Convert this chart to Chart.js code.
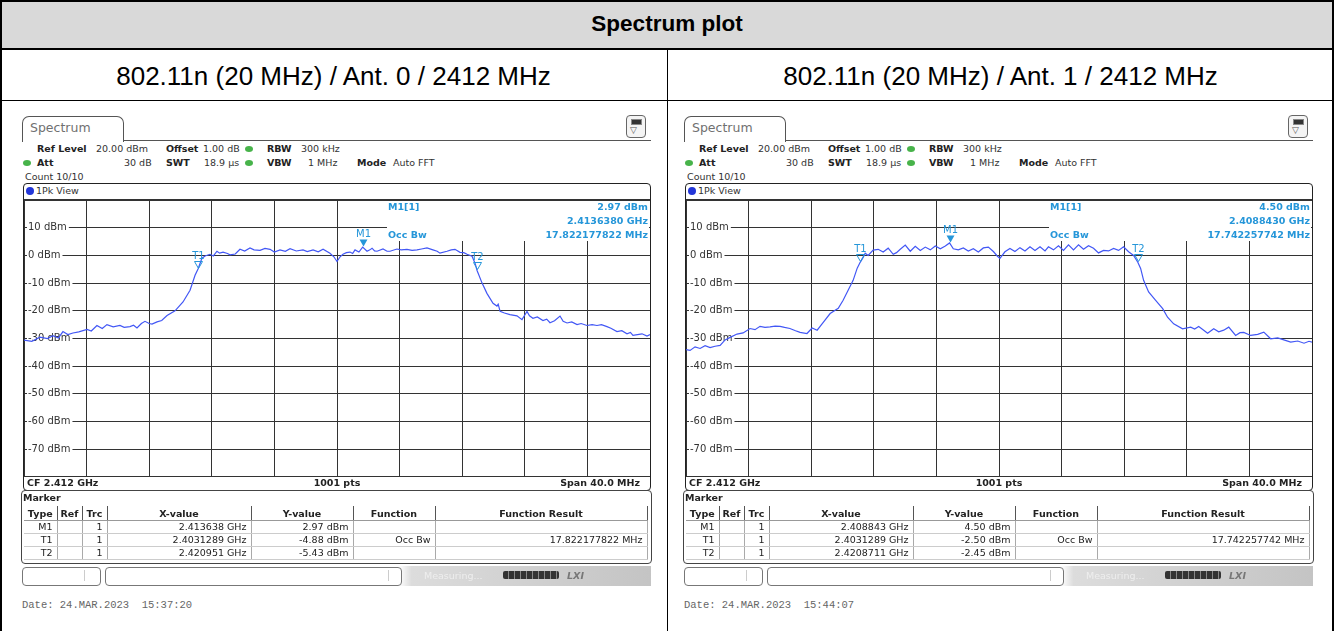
<!DOCTYPE html>
<html><head><meta charset="utf-8">
<script src="https://cdn.jsdelivr.net/npm/chart.js@4.4.1/dist/chart.umd.min.js"></script>
<style>
body{margin:0;background:#fff}
#page{position:relative;width:1334px;height:631px;overflow:hidden;background:#fff;font-family:"Liberation Sans",Arial,sans-serif}
.a{position:absolute}
.blk{position:absolute;background:#000}
.t{position:absolute;font-family:"DejaVu Sans";font-size:9.5px;line-height:12px;color:#333;white-space:nowrap}
.b{font-weight:bold;color:#222}
.dot{position:absolute;width:8px;height:6px;border-radius:50%;background:#47b34a}
.mk{position:absolute;left:24px;top:506px;border-collapse:collapse;table-layout:fixed;width:623px;font-family:"DejaVu Sans";font-size:9.5px;color:#222}
.mk th{height:14px;padding:0 3px;border-right:1px solid #555;border-bottom:1px solid #999;font-weight:bold;text-align:center;white-space:nowrap}
.mk td{height:12px;padding:0 4px;border-right:1px solid #aaa;border-bottom:1px solid #ccc;text-align:right;white-space:nowrap;line-height:12px}
.mi{position:absolute;background:#fff;font-family:"DejaVu Sans";font-size:9.5px;font-weight:bold;color:#2596d9;line-height:14px}
</style></head>
<body><div id="page">
  <div class="a" style="left:0;top:0;width:1334px;height:50px;background:#d9d9d9"></div>
  <div class="blk" style="left:0;top:0;width:1334px;height:2px"></div>
  <div class="blk" style="left:0;top:0;width:2px;height:631px"></div>
  <div class="blk" style="left:1332px;top:0;width:2px;height:631px"></div>
  <div class="blk" style="left:0;top:48px;width:1334px;height:2px"></div>
  <div class="blk" style="left:0;top:100px;width:1334px;height:1px"></div>
  <div class="blk" style="left:667px;top:50px;width:1px;height:581px"></div>
  <div class="a" style="left:0;top:10px;width:1334px;text-align:center;font-weight:bold;font-size:22.5px;line-height:28px">Spectrum plot</div>
  <div class="a" style="left:0;top:60px;width:667px;text-align:center;font-size:26px;line-height:32px">802.11n (20 MHz) / Ant. 0 / 2412 MHz</div>
  <div class="a" style="left:667px;top:60px;width:667px;text-align:center;font-size:26px;line-height:32px">802.11n (20 MHz) / Ant. 1 / 2412 MHz</div>
  <div id="p0" class="a" style="left:0;top:0;width:667px;height:631px"></div>
  <div id="p1" class="a" style="left:662px;top:0;width:667px;height:631px"></div>
</div>
<script>
// trace readings, frequency in MHz, level in dBm
const ant0Freq = [2392.0,2392.5,2393.02,2393.5,2393.85,2394.2,2394.49,2394.8,2395.13,2395.5,2396.03,2396.3,2396.66,2397.0,2397.3,2397.7,2398.13,2398.4,2398.77,2399.0,2399.22,2399.5,2399.73,2400.0,2400.18,2400.5,2400.8,2401.14,2401.65,2402.16,2402.61,2402.93,2403.12,2403.37,2403.57,2403.88,2404.1,2404.33,2404.5,2404.72,2405.0,2405.16,2405.5,2405.8,2406.1,2406.44,2406.7,2407.08,2407.4,2407.72,2408.0,2408.36,2408.7,2409.0,2409.4,2409.83,2410.1,2410.47,2410.8,2411.11,2411.55,2411.8,2412.0,2412.2,2412.38,2412.6,2412.83,2413.0,2413.15,2413.4,2413.64,2413.92,2414.1,2414.24,2414.4,2414.56,2414.94,2415.2,2415.39,2415.83,2416.1,2416.47,2416.8,2417.11,2417.4,2417.75,2418.13,2418.4,2418.58,2419.03,2419.3,2419.54,2419.86,2420.1,2420.31,2420.63,2420.82,2420.95,2421.27,2421.58,2421.97,2422.22,2422.3,2422.42,2422.7,2423.05,2423.5,2423.82,2424.0,2424.14,2424.3,2424.52,2424.8,2425.16,2425.4,2425.61,2425.9,2426.25,2426.45,2426.7,2427.0,2427.34,2427.6,2427.97,2428.3,2428.61,2428.9,2429.25,2429.5,2429.89,2430.2,2430.53,2430.75,2430.91,2431.2,2431.49,2431.81,2432.0];
const ant0Level = [-30.6,-31.0,-29.5,-30.0,-29.0,-29.8,-27.5,-28.6,-28.0,-27.6,-26.7,-27.3,-25.3,-26.4,-25.0,-25.8,-25.3,-26.0,-25.7,-25.2,-26.2,-24.6,-23.8,-24.6,-24.8,-24.0,-23.5,-21.7,-20.0,-16.8,-12.6,-7.2,-4.88,-1.0,-0.2,0.4,-0.2,1.5,0.8,1.2,0.7,0.2,0.5,2.2,1.6,2.7,2.0,1.8,2.5,2.2,1.2,2.0,1.5,2.4,1.6,2.0,1.4,2.0,1.3,2.2,0.8,-0.5,-2.2,-0.5,0.4,1.0,1.2,0.7,2.0,1.2,2.97,1.5,2.0,2.6,1.6,1.5,2.3,1.5,1.5,2.3,2.0,2.2,1.8,2.0,2.3,2.7,2.0,1.5,0.8,1.5,2.0,2.2,1.1,1.0,0.4,-0.3,-2.8,-5.43,-10.0,-13.7,-17.3,-18.3,-17.6,-20.2,-20.8,-21.4,-21.8,-23.2,-21.5,-20.2,-21.8,-22.7,-22.2,-23.5,-23.0,-24.3,-23.6,-21.9,-23.8,-24.4,-24.0,-25.0,-24.6,-25.3,-25.0,-25.3,-25.0,-25.7,-26.3,-27.5,-27.2,-28.3,-27.8,-28.9,-28.6,-28.3,-29.1,-28.6];
const ant1Freq = [2392.0,2392.26,2392.58,2392.9,2393.22,2393.54,2393.86,2394.18,2394.5,2394.82,2395.26,2395.65,2396.09,2396.41,2396.73,2397.05,2397.37,2397.7,2398.01,2398.3,2398.64,2399.0,2399.29,2399.73,2400.06,2400.38,2400.77,2401.21,2401.73,2402.04,2402.36,2402.68,2402.94,2403.13,2403.32,2403.45,2403.64,2403.96,2404.28,2404.6,2404.92,2405.24,2405.45,2405.69,2406.01,2406.33,2406.65,2406.97,2407.29,2407.61,2407.93,2408.25,2408.57,2408.84,2409.08,2409.4,2409.72,2410.04,2410.36,2410.68,2411.0,2411.32,2411.64,2411.9,2412.06,2412.38,2412.7,2413.02,2413.34,2413.66,2413.98,2414.3,2414.62,2414.94,2415.16,2415.48,2415.8,2416.12,2416.44,2416.76,2417.08,2417.4,2417.72,2418.04,2418.36,2418.68,2419.0,2419.32,2419.64,2419.96,2420.28,2420.6,2420.87,2421.05,2421.24,2421.56,2422.01,2422.46,2422.77,2423.16,2423.73,2424.25,2424.5,2424.76,2425.08,2425.33,2425.72,2426.04,2426.36,2426.68,2427.12,2427.4,2427.64,2428.08,2428.53,2428.92,2429.36,2429.81,2430.2,2430.64,2431.09,2431.49,2431.81,2432.0];
const ant1Level = [-34.0,-34.3,-33.0,-33.6,-32.6,-33.3,-32.8,-32.5,-30.5,-29.6,-28.4,-28.0,-26.4,-26.8,-25.6,-26.0,-25.8,-25.5,-25.6,-26.0,-26.4,-27.2,-27.8,-28.2,-26.2,-27.0,-24.2,-21.0,-19.1,-16.2,-12.6,-9.0,-4.6,-2.5,-0.7,0.8,0.0,1.9,2.2,1.2,2.6,0.4,1.0,2.2,3.7,1.5,3.3,1.8,3.0,2.0,3.4,2.4,3.4,4.5,2.4,2.0,2.7,1.6,2.4,1.2,2.7,3.0,1.4,-0.3,-1.1,1.3,2.5,1.4,2.8,1.6,3.1,1.8,3.1,1.6,3.1,2.0,3.5,1.8,3.8,2.0,3.8,2.2,3.5,2.6,0.9,1.8,1.6,2.5,1.8,3.1,1.3,0.0,-2.45,-4.7,-9.0,-13.2,-16.2,-19.2,-22.3,-24.7,-26.5,-25.9,-26.6,-25.7,-27.0,-28.1,-26.5,-27.6,-27.0,-25.9,-28.9,-27.9,-27.8,-28.9,-28.5,-27.7,-30.1,-29.8,-30.5,-31.3,-30.9,-31.7,-31.0,-31.3];

// axis: CF 2412 MHz, span 40 MHz, ref level 20 dBm, 10 dB/div
const freqMin = 2392, freqMax = 2432, freqStep = 4;
const levelMin = -80, levelMax = 20, levelStep = 10;

// markers
const markerNames = ["M1", "T1", "T2"];
const ant0MarkerFreq = [2413.638, 2403.1289, 2420.951];
const ant0MarkerLevel = [2.97, -4.88, -5.43];
const ant1MarkerFreq = [2408.843, 2403.1289, 2420.8711];
const ant1MarkerLevel = [4.50, -2.50, -2.45];
const ant0MarkerXText = ["2.413638 GHz", "2.4031289 GHz", "2.420951 GHz"];
const ant1MarkerXText = ["2.408843 GHz", "2.4031289 GHz", "2.4208711 GHz"];
const ant0OccBw = "17.822177822 MHz", ant1OccBw = "17.742257742 MHz";
const ant0M1Freq = "2.4136380 GHz", ant1M1Freq = "2.4088430 GHz";
const ant0Date = "Date: 24.MAR.2023  15:37:20", ant1Date = "Date: 24.MAR.2023  15:44:07";

const MK_BLUE = "#2596d9";

function tx(x, y, s, cls, extra){
  return `<div class="t ${cls||""}" style="left:${x}px;top:${y-6}px;${extra||""}">${s}</div>`;
}

function panelHtml(id, mFreqTxt, mLevel, mXText, occ, date){
  const rows = markerNames.map((n,i)=>`<tr><td>${n}</td><td></td><td>1</td><td>${mXText[i]}</td><td>${mLevel[i].toFixed(2)} dBm</td><td>${i===1?"Occ Bw":""}</td><td>${i===1?occ:""}</td></tr>`).join("");
  return `
  <div class="a" style="left:22px;top:116px;width:100px;height:25px;border:1px solid #555;border-bottom:none;border-radius:7px 7px 0 0"></div>
  <div class="t" style="left:30px;top:120px;font-size:12.5px;line-height:15px;color:#707070">Spectrum</div>
  <div class="a" style="left:123px;top:140px;width:528px;height:1px;background:#555"></div>
  <div class="a" style="left:626px;top:115px;width:18px;height:21px;border:1px solid #666;border-radius:4px;background:#f4f4f4"></div>
  <div class="a" style="left:631px;top:119px;width:9px;height:4px;background:#333;border:1px solid #888"></div>
  <div class="t" style="left:630px;top:124px;font-size:9px;color:#555">▽</div>
  ${tx(37,149,"Ref Level","b")}${tx(96,149,"20.00 dBm")}${tx(166,149,"Offset","b")}${tx(203,149,"1.00 dB")}
  <div class="dot" style="left:245px;top:146px"></div>${tx(267,149,"RBW","b")}${tx(301,149,"300 kHz")}
  <div class="dot" style="left:23px;top:160px"></div>${tx(37,163,"Att","b")}${tx(124,163,"30 dB")}${tx(166,163,"SWT","b")}${tx(204,163,"18.9 µs")}
  <div class="dot" style="left:245px;top:160px"></div>${tx(267,163,"VBW","b")}${tx(308,163,"1 MHz")}${tx(357,163,"Mode","b")}${tx(393,163,"Auto FFT")}
  ${tx(25,177,"Count 10/10")}
  <div class="a" style="left:23px;top:183px;width:626px;height:306px;border:1px solid #222;border-radius:4px"></div>
  <div class="a" style="left:26px;top:187px;width:8px;height:8px;border-radius:50%;background:#2336d8"></div>
  ${tx(36,191,"1Pk View")}
  <div class="a" style="left:24px;top:199px;width:626px;height:1px;background:#333"></div>
  <canvas id="c${id}" class="a" style="left:24px;top:200px" width="626" height="277"></canvas>
  <div class="mi" style="left:387px;top:201px;width:262px;height:40px">
    <div class="a" style="left:1px;top:-1px">M1[1]</div>
    <div class="a" style="right:1px;top:-1px">${mLevel[0].toFixed(2)} dBm</div>
    <div class="a" style="right:1px;top:13px">${mFreqTxt}</div>
    <div class="a" style="left:1px;top:27px">Occ Bw</div>
    <div class="a" style="right:1px;top:27px">${occ}</div>
  </div>
  <div class="a" style="left:24px;top:476px;width:626px;height:1px;background:#333"></div>
  ${tx(27,483,"CF 2.412 GHz","b")}
  <div class="t b" style="left:24px;top:477px;width:626px;text-align:center">1001 pts</div>
  <div class="t b" style="left:24px;top:477px;width:616px;text-align:right">Span 40.0 MHz</div>
  <div class="a" style="left:21px;top:490px;width:629px;height:72px;border:1px solid #444;border-radius:4px"></div>
  ${tx(23,498,"Marker","b")}
  <table class="mk"><colgroup><col style="width:33px"><col style="width:25px"><col style="width:25px"><col style="width:144px"><col style="width:102px"><col style="width:82px"><col style="width:212px"></colgroup>
  <tr><th>Type</th><th>Ref</th><th>Trc</th><th>X-value</th><th>Y-value</th><th>Function</th><th>Function Result</th></tr>${rows}</table>
  <div class="a" style="left:21px;top:566px;width:630px;height:20px;background:linear-gradient(90deg,#fff 0,#fff 60%,#dcdcdc 62%,#c4c4c4 100%)"></div>
  <div class="a" style="left:22px;top:567px;width:77px;height:17px;border:1px solid #777;border-radius:4px;background:#fff"></div>
  <div class="a" style="left:84px;top:570px;width:1px;height:11px;background:#ccc"></div>
  <div class="a" style="left:105px;top:567px;width:295px;height:17px;border:1px solid #777;border-radius:4px;background:#fff"></div>
  <div class="a" style="left:388px;top:570px;width:1px;height:11px;background:#ccc"></div>
  <div class="t" style="left:424px;top:570px;color:#eee">Measuring...</div>
  <div class="a" style="left:503px;top:571px;width:56px;height:8px;background:repeating-linear-gradient(90deg,#333 0,#333 5px,#888 5px,#888 6px);border-radius:2px"></div>
  <div class="t" style="left:567px;top:570px;font-style:italic;font-weight:bold;color:#777">LXI</div>
  <div class="t" style="left:22px;top:599px;font-family:'Liberation Mono';font-size:10.5px;color:#666;white-space:pre">${date}</div>`;
}

const markerPlugin = {
  id: "markers",
  afterDatasetsDraw(chart, args, opts){
    const {ctx, scales:{x, y}} = chart;
    ctx.save();
    ctx.font = '10px "DejaVu Sans"';
    ctx.textAlign = "center";
    ctx.textBaseline = "bottom";
    ctx.strokeStyle = ctx.fillStyle = MK_BLUE;
    ctx.lineWidth = 1;
    opts.names.forEach((n,i)=>{
      const px = Math.round(x.getPixelForValue(opts.freq[i])) + 0.5;
      const py = Math.round(y.getPixelForValue(opts.level[i])) - 0.5;
      ctx.beginPath();
      ctx.moveTo(px, py); ctx.lineTo(px-4, py-7); ctx.lineTo(px+4, py-7); ctx.closePath();
      if (n[0] === "M") ctx.fill(); else ctx.stroke();
      ctx.fillText(n, px, py-7);
    });
    ctx.restore();
  }
};

// keep the axes from taking any room: the plot fills the whole canvas
function noRoom(s){ s.width = s.isHorizontal() ? s.width : 0; if (s.isHorizontal()) s.height = 0; s.paddingTop = s.paddingBottom = s.paddingLeft = s.paddingRight = 0; }

function makeChart(id, freq, level, mFreq, mLevel){
  new Chart(document.getElementById("c"+id), {
    type: "line",
    data: { datasets: [{ data: freq.map((f,i)=>({x:f, y:level[i]})), borderColor:"#4257f5", borderWidth:1.2, pointRadius:0, tension:0 }] },
    options: {
      responsive:false, animation:false, events:[],
      layout:{padding:0, autoPadding:false},
      plugins:{legend:{display:false}, tooltip:{enabled:false}, markers:{names:markerNames, freq:mFreq, level:mLevel}},
      scales:{
        x:{type:"linear", min:freqMin, max:freqMax, afterFit:noRoom, ticks:{display:false, stepSize:freqStep}, grid:{color:"#333", drawTicks:false}, border:{display:false}},
        y:{min:levelMin, max:levelMax, afterFit:noRoom,
           ticks:{stepSize:levelStep, mirror:true, padding:4, color:"#333", font:{family:"DejaVu Sans", size:10},
             callback:v => (v===levelMax || v===levelMin) ? "" : v+" dBm",
             showLabelBackdrop:true, backdropPadding:{top:0,bottom:0,left:1,right:2},
             backdropColor:c => (c.tick && (c.tick.value===levelMax || c.tick.value===levelMin)) ? "rgba(0,0,0,0)" : "#fff"},
           grid:{color:"#333", drawTicks:false}, border:{display:false}}
      }
    },
    plugins:[markerPlugin]
  });
}

document.getElementById("p0").innerHTML = panelHtml(0, ant0M1Freq, ant0MarkerLevel, ant0MarkerXText, ant0OccBw, ant0Date);
document.getElementById("p1").innerHTML = panelHtml(1, ant1M1Freq, ant1MarkerLevel, ant1MarkerXText, ant1OccBw, ant1Date);
makeChart(0, ant0Freq, ant0Level, ant0MarkerFreq, ant0MarkerLevel);
makeChart(1, ant1Freq, ant1Level, ant1MarkerFreq, ant1MarkerLevel);
</script>
</body></html>
